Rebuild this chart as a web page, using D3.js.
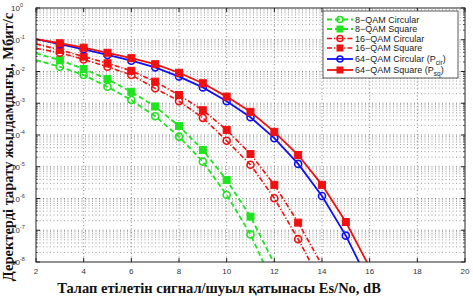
<!DOCTYPE html>
<html><head><meta charset="utf-8">
<script src="https://cdn.jsdelivr.net/npm/d3@7/dist/d3.min.js"></script>
<style>body{margin:0;background:#fff}svg{display:block}</style>
</head><body>
<svg id="c" width="473" height="298"></svg>
<script>
const snr = [2,3,4,5,6,7,8,9,10,11,12,13,14,15,16];
const qam8Circular = [2.29e-2,1.41e-2,7.76e-3,3.31e-3,1.26e-3,3.89e-4,8.91e-5,1.45e-5,1.29e-6,7.41e-8,1.70e-9];
const qam8Square   = [3.72e-2,2.29e-2,1.20e-2,5.75e-3,2.29e-3,7.94e-4,1.91e-4,3.39e-5,3.80e-6,2.69e-7,8.91e-9];
const qam16Circular = [5.37e-2,3.89e-2,2.40e-2,1.41e-2,7.76e-3,2.95e-3,1.17e-3,3.47e-4,6.61e-5,1.15e-5,1.02e-6,5.25e-8,2.00e-9];
const qam16Square   = [7.41e-2,4.79e-2,2.95e-2,1.82e-2,1.05e-2,4.79e-3,1.82e-3,6.03e-4,1.45e-4,2.51e-5,2.69e-6,1.74e-7,7.94e-9];
const qam64Circular = [1.05e-1,7.24e-2,5.01e-2,3.31e-2,2.19e-2,1.35e-2,6.92e-3,3.16e-3,1.15e-3,3.63e-4,7.94e-5,1.23e-5,1.20e-6,6.76e-8,2.09e-9];
const qam64Square   = [1.05e-1,7.76e-2,5.62e-2,3.89e-2,2.63e-2,1.70e-2,9.12e-3,4.27e-3,1.62e-3,5.37e-4,1.26e-4,2.34e-5,2.69e-6,1.82e-7,6.76e-9];
const seriesNames = ["8−QAM Circular","8−QAM Square","16−QAM Circular","16−QAM Square","64−QAM Circular (P","64−QAM Square (P"];
const seriesSubs = ["","","","","cir","sq"];
const xTicks = [2,4,6,8,10,12,14,16,18,20];
const yExponents = [0,-1,-2,-3,-4,-5,-6,-7,-8];
const xTitle = "Талап етілетін сигнал/шуыл қатынасы Es/No, dB";
const yTitle = "Деректерді тарату жылдамдығы, Мбит/с";

const series = [
  {vals: qam8Circular, color:"#1ee41e", dash:"5,3", w:1.8, marker:"circle"},
  {vals: qam8Square, color:"#1ee41e", dash:"5,3", w:1.8, marker:"square"},
  {vals: qam16Circular, color:"#f01010", dash:"5,2,1.2,2", w:1.6, marker:"circle"},
  {vals: qam16Square, color:"#f01010", dash:"5,2,1.2,2", w:1.6, marker:"square"},
  {vals: qam64Circular, color:"#1010f0", dash:null, w:1.8, marker:"circle"},
  {vals: qam64Square, color:"#f01010", dash:null, w:1.8, marker:"square"}
];

const L=36,R=465,T=8,B=262;
const svg=d3.select("#c");
const x=d3.scaleLinear().domain([2,20]).range([L,R]);
const y=d3.scaleLog().domain([1e-8,1]).range([B,T]);

// grid
const g=svg.append("g");
xTicks.slice(1,-1).forEach(v=>{
  g.append("line").attr("x1",x(v)).attr("x2",x(v)).attr("y1",T).attr("y2",B)
   .attr("stroke","#666").attr("stroke-width",0.8).attr("stroke-dasharray","1,2.5");
});
for(let e=-8;e<0;e++){
  for(let m=1;m<=9;m++){
    const v=m*Math.pow(10,e);
    if(m===1 && e===-8) continue;
    g.append("line").attr("x1",L).attr("x2",R).attr("y1",y(v)).attr("y2",y(v))
     .attr("stroke",m===1?"#666":"#888").attr("stroke-width",0.8).attr("stroke-dasharray","1,2.5");
  }
}

// clip
svg.append("clipPath").attr("id","clip").append("rect").attr("x",L).attr("y",T).attr("width",R-L).attr("height",B-T);
const plot=svg.append("g").attr("clip-path","url(#clip)");

const line=d3.line().x((d,i)=>x(snr[i])).y(d=>y(d));
series.forEach(s=>{
  plot.append("path").attr("d",line(s.vals)).attr("fill","none").attr("stroke",s.color)
    .attr("stroke-width",s.w).attr("stroke-dasharray",s.dash);
});
function drawMarker(sel,type,cx,cy,color,sz){
  if(type==="circle"){
    sel.append("circle").attr("cx",cx).attr("cy",cy).attr("r",sz/2).attr("fill","none").attr("stroke",color).attr("stroke-width",1.6);
  } else {
    sel.append("rect").attr("x",cx-sz/2).attr("y",cy-sz/2).attr("width",sz).attr("height",sz).attr("fill",color).attr("stroke",color).attr("stroke-width",1);
  }
}
series.forEach(s=>{
  s.vals.forEach((v,i)=>{
    if(i===0) return;
    if(v<1e-8) return;
    drawMarker(plot,s.marker,x(snr[i]),y(v),s.color,7);
  });
});

// frame + ticks
svg.append("rect").attr("x",L).attr("y",T).attr("width",R-L).attr("height",B-T).attr("fill","none").attr("stroke","#222").attr("stroke-width",1);
xTicks.forEach(v=>{
  [[B,B-4],[T,T+4]].forEach(p=>svg.append("line").attr("x1",x(v)).attr("x2",x(v)).attr("y1",p[0]).attr("y2",p[1]).attr("stroke","#222"));
  svg.append("text").attr("x",x(v)).attr("y",B+12).attr("text-anchor","middle")
    .attr("font-family","Liberation Sans, Arial").attr("font-size",8).attr("fill","#333").text(v);
});
yExponents.forEach(e=>{
  const yy=y(Math.pow(10,e));
  [[L,L+4],[R,R-4]].forEach(p=>svg.append("line").attr("x1",p[0]).attr("x2",p[1]).attr("y1",yy).attr("y2",yy).attr("stroke","#222"));
  const t=svg.append("text").attr("x",11).attr("y",yy+3).attr("font-family","Liberation Sans, Arial").attr("font-size",8).attr("fill","#333");
  t.append("tspan").text("10");
  t.append("tspan").attr("font-size",5.5).attr("dy",-4).text(e);
});
for(let e=-8;e<0;e++){
  for(let m=2;m<=9;m++){
    const yy=y(m*Math.pow(10,e));
    [[L,L+2],[R,R-2]].forEach(p=>svg.append("line").attr("x1",p[0]).attr("x2",p[1]).attr("y1",yy).attr("y2",yy).attr("stroke","#222").attr("stroke-width",0.6));
  }
}

// titles
svg.append("text").attr("x",219).attr("y",293).attr("text-anchor","middle")
  .attr("font-family","Liberation Serif, Times New Roman").attr("font-weight","bold").attr("font-size",14.5).attr("fill","#111").text(xTitle);
svg.append("text").attr("transform","translate(13,147) rotate(-90)").attr("text-anchor","middle")
  .attr("font-family","Liberation Serif, Times New Roman").attr("font-weight","bold").attr("font-size",14.5).attr("fill","#111").text(yTitle);

// legend
const lg=svg.append("g");
lg.append("rect").attr("x",323).attr("y",11).attr("width",135).attr("height",67).attr("fill","#fff").attr("stroke","#333").attr("stroke-width",0.8);
const rows=[19.5,29,38.5,48,59,70];
series.forEach((s,i)=>{
  const ry=rows[i];
  lg.append("line").attr("x1",327).attr("x2",353).attr("y1",ry).attr("y2",ry).attr("stroke",s.color).attr("stroke-width",s.w).attr("stroke-dasharray",s.dash);
  drawMarker(lg,s.marker,340,ry,s.color,6);
  const t=lg.append("text").attr("x",355).attr("y",ry+3.2).attr("font-family","Liberation Sans, Arial").attr("font-size",9).attr("fill","#222");
  t.append("tspan").text(seriesNames[i]);
  if(seriesSubs[i]){
    t.append("tspan").attr("font-size",6.5).attr("dy",2.5).text(seriesSubs[i]);
    t.append("tspan").attr("dy",-2.5).text(")");
  }
});
</script>
</body></html>
